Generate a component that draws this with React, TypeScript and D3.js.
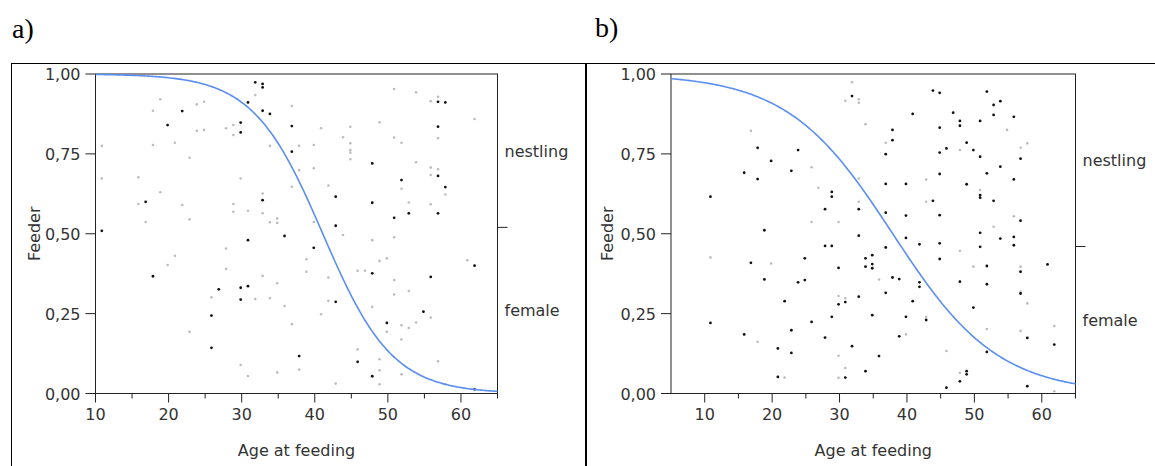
import React from 'react';
import * as d3 from 'd3';

// ---------- data ----------
const yTicks = [0, 0.25, 0.5, 0.75, 1];
const xMajor = [10, 20, 30, 40, 50, 60];
const xMinor = [15, 25, 35, 45, 55, 65];
const levelLabels = ['nestling', 'female'];
const xTitle = 'Age at feeding';
const yTitle = 'Feeder';
const panelLabels = ['a)', 'b)'];

// fitted logistic models P(nestling) = 1 / (1 + exp(-(intercept + slope * age)))
const fitA = { intercept: 8.63, slope: -0.21 };
const fitB = { intercept: 4.85, slope: -0.128 };
// share of "female" level (position of the divider on the right axis)
const femaleShareA = 0.52;
const femaleShareB = 0.46;

// [age, jittered feeder position]
const blackA: [number, number][] = [
  [11, 0.509], [17, 0.6], [20, 0.84], [22, 0.884], [30, 0.848], [30, 0.817], [31, 0.48], [31, 0.911],
  [32, 0.974], [33, 0.969], [33, 0.958], [33, 0.605], [33, 0.885], [34, 0.875], [36, 0.493], [37, 0.837],
  [37, 0.757], [40, 0.456], [43, 0.616], [43, 0.525], [48, 0.72], [48, 0.597], [52, 0.668], [51, 0.55],
  [53, 0.564], [57, 0.913], [58, 0.911], [57, 0.835], [57, 0.681], [58, 0.646], [57, 0.564], [18, 0.367],
  [27, 0.326], [30, 0.331], [31, 0.336], [30, 0.294], [26, 0.244], [26, 0.143], [38, 0.117], [43, 0.287],
  [48, 0.376], [46, 0.099], [48, 0.054], [50, 0.221], [56, 0.365], [55, 0.256], [62, 0.4], [62, 0.013],
];
const grayA: [number, number][] = [
  [11, 0.775], [11, 0.673], [16, 0.677], [16, 0.593], [17, 0.537], [18, 0.885], [18, 0.778], [19, 0.921],
  [19, 0.63], [21, 0.785], [21, 0.431], [22, 0.59], [23, 0.738], [23, 0.545], [24, 0.905], [24, 0.822],
  [25, 0.913], [25, 0.825], [28, 0.83], [28, 0.454], [29, 0.84], [29, 0.809], [29, 0.593], [29, 0.569],
  [30, 0.673], [31, 0.572], [32, 0.934], [33, 0.626], [33, 0.564], [34, 0.775], [34, 0.536], [35, 0.548],
  [35, 0.534], [37, 0.9], [37, 0.647], [38, 0.775], [38, 0.699], [41, 0.83], [40, 0.778], [40, 0.705],
  [40, 0.537], [42, 0.651], [44, 0.802], [44, 0.496], [45, 0.835], [45, 0.783], [45, 0.762], [45, 0.754],
  [45, 0.733], [48, 0.48], [49, 0.849], [51, 0.953], [51, 0.801], [52, 0.785], [52, 0.641], [51, 0.489],
  [53, 0.598], [54, 0.943], [54, 0.724], [56, 0.915], [57, 0.929], [57, 0.799], [56, 0.707], [57, 0.702],
  [56, 0.684], [58, 0.623], [56, 0.592], [62, 0.859], [20, 0.402], [28, 0.39], [33, 0.368], [35, 0.345],
  [26, 0.301], [32, 0.296], [34, 0.298], [36, 0.274], [37, 0.217], [23, 0.193], [30, 0.089], [31, 0.055],
  [35, 0.066], [38, 0.075], [39, 0.42], [39, 0.381], [42, 0.363], [42, 0.29], [41, 0.248], [43, 0.031],
  [46, 0.384], [47, 0.384], [49, 0.415], [50, 0.423], [48, 0.271], [46, 0.138], [49, 0.107], [49, 0.073],
  [49, 0.029], [50, 0.193], [51, 0.355], [51, 0.31], [53, 0.321], [52, 0.214], [53, 0.205], [54, 0.222],
  [52, 0.169], [52, 0.06], [56, 0.238], [57, 0.101], [58, 0.029], [61, 0.417],
];
const blackB: [number, number][] = [
  [11, 0.616], [16, 0.691], [18, 0.769], [18, 0.671], [19, 0.511], [20, 0.728], [23, 0.697], [24, 0.762],
  [25, 0.423], [28, 0.577], [28, 0.462], [29, 0.462], [29, 0.631], [29, 0.616], [32, 0.931], [33, 0.577],
  [33, 0.494], [34, 0.423], [35, 0.433], [38, 0.825], [38, 0.793], [37, 0.749], [41, 0.875], [44, 0.948],
  [45, 0.941], [47, 0.879], [48, 0.853], [48, 0.838], [45, 0.832], [45, 0.754], [46, 0.767], [49, 0.785],
  [50, 0.762], [51, 0.853], [51, 0.741], [52, 0.945], [53, 0.903], [54, 0.915], [53, 0.872], [56, 0.866],
  [57, 0.735], [54, 0.71], [52, 0.689], [56, 0.67], [49, 0.655], [45, 0.687], [40, 0.656], [37, 0.656],
  [51, 0.621], [51, 0.613], [53, 0.603], [44, 0.603], [37, 0.566], [40, 0.557], [45, 0.558], [57, 0.541],
  [40, 0.487], [42, 0.467], [45, 0.47], [51, 0.503], [51, 0.459], [54, 0.485], [56, 0.49], [56, 0.464],
  [37, 0.457], [45, 0.421], [17, 0.409], [19, 0.357], [22, 0.289], [24, 0.348], [25, 0.355], [30, 0.393],
  [30, 0.279], [31, 0.286], [33, 0.303], [34, 0.397], [35, 0.405], [35, 0.392], [11, 0.221], [16, 0.185],
  [21, 0.141], [23, 0.198], [23, 0.127], [26, 0.224], [29, 0.24], [28, 0.175], [32, 0.148], [35, 0.245],
  [36, 0.117], [34, 0.07], [21, 0.052], [31, 0.05], [52, 0.399], [57, 0.381], [61, 0.404], [38, 0.363],
  [39, 0.358], [42, 0.348], [42, 0.334], [48, 0.35], [52, 0.342], [57, 0.313], [37, 0.315], [41, 0.289],
  [40, 0.24], [43, 0.23], [50, 0.269], [39, 0.179], [58, 0.174], [62, 0.153], [52, 0.13], [49, 0.07],
  [49, 0.06], [48, 0.038], [46, 0.018], [58, 0.023],
];
const grayB: [number, number][] = [
  [11, 0.426], [17, 0.822], [26, 0.708], [27, 0.644], [26, 0.537], [30, 0.537], [31, 0.916], [32, 0.974],
  [33, 0.921], [33, 0.91], [34, 0.843], [33, 0.673], [33, 0.6], [37, 0.785], [48, 0.762], [55, 0.825],
  [57, 0.769], [58, 0.783], [43, 0.67], [51, 0.637], [43, 0.6], [56, 0.555], [53, 0.522], [48, 0.447],
  [20, 0.407], [30, 0.305], [31, 0.298], [18, 0.162], [30, 0.118], [31, 0.08], [22, 0.05], [30, 0.049],
  [36, 0.357], [50, 0.397], [57, 0.397], [57, 0.318], [58, 0.282], [43, 0.24], [40, 0.185], [52, 0.202],
  [57, 0.196], [62, 0.211], [46, 0.133], [48, 0.065], [62, 0.007],
];

// ---------- drawing ----------
const FONT = '"DejaVu Sans", Verdana, sans-serif';
const TXT = '#333';
const fmt = (d: number) => d.toFixed(2).replace('.', ',');

type PanelProps = {
  left: number; right: number; top: number; bottom: number;
  xDomain: [number, number];
  black: [number, number][]; gray: [number, number][];
  fit: { intercept: number; slope: number };
  femaleShare: number;
  yTitleX: number;
};

function Panel(p: PanelProps) {
  const x = d3.scaleLinear().domain(p.xDomain).range([p.left, p.right]);
  const y = d3.scaleLinear().domain([0, 1]).range([p.bottom, p.top]);
  const samples = d3.range(p.xDomain[0], p.xDomain[1] + 1e-9, 0.25);
  const prob = (a: number) => 1 / (1 + Math.exp(-(p.fit.intercept + p.fit.slope * a)));
  const line = d3.line<number>().x((a) => x(a)).y((a) => y(prob(a))).curve(d3.curveMonotoneX);
  const divY = y(p.femaleShare);
  const midX = (p.left + p.right) / 2;
  const minors = xMinor.filter((v) => v >= p.xDomain[0] && v <= p.xDomain[1]);
  return (
    <g>
      {/* plot frame */}
      <rect x={p.left} y={p.top} width={p.right - p.left} height={p.bottom - p.top}
        fill="none" stroke="#222" strokeWidth={1} />
      {/* y ticks */}
      {yTicks.map((t) => (
        <g key={'y' + t}>
          <line x1={p.left - 10} x2={p.left} y1={y(t)} y2={y(t)} stroke="#222" />
          <text x={p.left - 15} y={y(t) + 6} textAnchor="end" fontFamily={FONT} fontSize={16} fill={TXT}>
            {fmt(t)}
          </text>
        </g>
      ))}
      {/* x ticks */}
      {xMajor.map((t) => (
        <g key={'x' + t}>
          <line x1={x(t)} x2={x(t)} y1={p.bottom} y2={p.bottom + 9} stroke="#222" />
          <text x={x(t)} y={p.bottom + 26.5} textAnchor="middle" fontFamily={FONT} fontSize={16} fill={TXT}>
            {t}
          </text>
        </g>
      ))}
      {minors.map((t) => (
        <line key={'m' + t} x1={x(t)} x2={x(t)} y1={p.bottom} y2={p.bottom + 5} stroke="#222" />
      ))}
      {/* right level axis */}
      <line x1={p.right} x2={p.right + 10} y1={divY} y2={divY} stroke="#222" />
      <text x={p.right + 7} y={(p.top + divY) / 2 + 6} fontFamily={FONT} fontSize={16} fill={TXT}>
        {levelLabels[0]}
      </text>
      <text x={p.right + 7} y={(divY + p.bottom) / 2 + 6} fontFamily={FONT} fontSize={16} fill={TXT}>
        {levelLabels[1]}
      </text>
      {/* titles */}
      <text x={midX} y={p.bottom + 62.7} textAnchor="middle" fontFamily={FONT} fontSize={16} fill={TXT}>
        {xTitle}
      </text>
      <text transform={`translate(${p.yTitleX},${(p.top + p.bottom) / 2}) rotate(-90)`} textAnchor="middle"
        fontFamily={FONT} fontSize={16} fill={TXT}>
        {yTitle}
      </text>
      {/* points */}
      {p.gray.map((d, i) => (
        <circle key={'g' + i} cx={x(d[0]) - 1} cy={y(d[1])} r={1.3} fill="#bcbcbc" />
      ))}
      {p.black.map((d, i) => (
        <circle key={'b' + i} cx={x(d[0]) - 1} cy={y(d[1])} r={1.4} fill="#111" />
      ))}
      {/* fitted curve */}
      <path d={line(samples) || ''} fill="none" stroke="#5a8ef2" strokeWidth={1.6} />
    </g>
  );
}

export default function App() {
  return (
    <svg width={1155} height={466} style={{ position: 'absolute', left: 0, top: 0, background: '#fff' }}>
      <rect x={0} y={0} width={1155} height={466} fill="#fff" />
      {/* outer frame */}
      <line x1={11.5} x2={11.5} y1={63} y2={466} stroke="#000" strokeWidth={1} />
      <line x1={11} x2={1155} y1={63.5} y2={63.5} stroke="#000" strokeWidth={1} />
      <line x1={586} x2={586} y1={63} y2={466} stroke="#000" strokeWidth={2} />
      {/* panel labels */}
      <text x={12} y={38} fontFamily='"Liberation Serif", "Times New Roman", serif' fontSize={28} fill="#000">
        {panelLabels[0]}
      </text>
      <text x={595} y={37} fontFamily='"Liberation Serif", "Times New Roman", serif' fontSize={28} fill="#000">
        {panelLabels[1]}
      </text>
      <Panel left={95.5} right={497.5} top={74} bottom={393.5} xDomain={[10, 65]}
        black={blackA} gray={grayA} fit={fitA} femaleShare={femaleShareA} yTitleX={40} />
      <Panel left={671} right={1075.5} top={74} bottom={393.5} xDomain={[5, 65]}
        black={blackB} gray={grayB} fit={fitB} femaleShare={femaleShareB} yTitleX={613} />
    </svg>
  );
}
